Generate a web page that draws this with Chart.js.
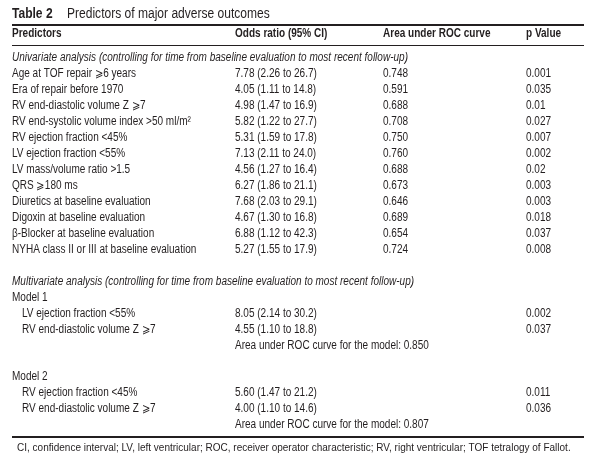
<!DOCTYPE html>
<html>
<head>
<meta charset="utf-8">
<script src="https://cdn.jsdelivr.net/npm/chart.js@4.4.1/dist/chart.umd.min.js"></script>
<style>
  html, body { margin: 0; padding: 0; background: #fff; }
  #wrap { width: 600px; height: 461px; position: relative; }
</style>
</head>
<body>
<div id="wrap"><canvas id="table"></canvas></div>
<script>
// table content
const tableTitle = 'Predictors of major adverse outcomes';
const columnHeaders = ['Predictors', 'Odds ratio (95% CI)', 'Area under ROC curve', 'p Value'];

const univariateHeading = 'Univariate analysis (controlling for time from baseline evaluation to most recent follow-up)';
const univariateLabels = [
  'Age at TOF repair \u2A7E6 years',
  'Era of repair before 1970',
  'RV end-diastolic volume Z \u2A7E7',
  'RV end-systolic volume index >50 ml/m\u00B2',
  'RV ejection fraction <45%',
  'LV ejection fraction <55%',
  'LV mass/volume ratio >1.5',
  'QRS \u2A7E180 ms',
  'Diuretics at baseline evaluation',
  'Digoxin at baseline evaluation',
  '\u03B2-Blocker at baseline evaluation',
  'NYHA class II or III at baseline evaluation'
];
const univariateOR = [7.78, 4.05, 4.98, 5.82, 5.31, 7.13, 4.56, 6.27, 7.68, 4.67, 6.88, 5.27];
const univariateLow = [2.26, 1.11, 1.47, 1.22, 1.59, 2.11, 1.27, 1.86, 2.03, 1.30, 1.12, 1.55];
const univariateHigh = [26.7, 14.8, 16.9, 27.7, 17.8, 24.0, 16.4, 21.1, 29.1, 16.8, 42.3, 17.9];
const univariateAUC = [0.748, 0.591, 0.688, 0.708, 0.750, 0.760, 0.688, 0.673, 0.646, 0.689, 0.654, 0.724];
const univariateP = [0.001, 0.035, 0.01, 0.027, 0.007, 0.002, 0.02, 0.003, 0.003, 0.018, 0.037, 0.008];

const multivariateHeading = 'Multivariate analysis (controlling for time from baseline evaluation to most recent follow-up)';
const model1Labels = ['LV ejection fraction <55%', 'RV end-diastolic volume Z \u2A7E7'];
const model1OR = [8.05, 4.55];
const model1Low = [2.14, 1.10];
const model1High = [30.2, 18.8];
const model1P = [0.002, 0.037];
const model1AUC = 0.850;

const model2Labels = ['RV ejection fraction <45%', 'RV end-diastolic volume Z \u2A7E7'];
const model2OR = [5.60, 4.00];
const model2Low = [1.47, 1.10];
const model2High = [21.2, 14.6];
const model2P = [0.011, 0.036];
const model2AUC = 0.807;

const footnote = 'CI, confidence interval; LV, left ventricular; ROC, receiver operator characteristic; RV, right ventricular; TOF tetralogy of Fallot.';

// build the rows (one category per printed line)
const fmtOR = (v, lo, hi) => v.toFixed(2) + ' (' + lo.toFixed(2) + ' to ' + hi.toFixed(1) + ')';
const rows = [];
rows.push({ label: univariateHeading, italic: true });
univariateLabels.forEach((l, i) => rows.push({
  label: l,
  or: fmtOR(univariateOR[i], univariateLow[i], univariateHigh[i]),
  auc: univariateAUC[i].toFixed(3),
  p: String(univariateP[i])
}));
rows.push({ label: '' });
rows.push({ label: multivariateHeading, italic: true });
[[model1Labels, model1OR, model1Low, model1High, model1P, model1AUC, 'Model 1'],
 [model2Labels, model2OR, model2Low, model2High, model2P, model2AUC, 'Model 2']].forEach((m, k) => {
  if (k > 0) rows.push({ label: '' });
  rows.push({ label: m[6] });
  m[0].forEach((l, i) => rows.push({ label: l, indent: true, or: fmtOR(m[1][i], m[2][i], m[3][i]), p: String(m[4][i]) }));
  rows.push({ label: '', or: 'Area under ROC curve for the model: ' + m[5].toFixed(3) });
});

// layout
const FAMILY = '"Liberation Sans", Arial, sans-serif';
const SX = 0.835;         // condensed look
const INK = '#231f20';
const colX = [12, 235, 383, 526];
const ruleLeft = 12, ruleRight = 584;

function txt(ctx, s, x, y, font, sx) {
  ctx.save();
  ctx.translate(x, y);
  ctx.scale(sx || SX, 1);
  ctx.font = font;
  ctx.fillStyle = INK;
  ctx.textAlign = 'left';
  ctx.textBaseline = 'middle';
  ctx.fillText(s, 0, 0);
  ctx.restore();
}
function rule(ctx, y, w) {
  ctx.save();
  ctx.strokeStyle = INK;
  ctx.lineWidth = w;
  ctx.beginPath();
  ctx.moveTo(ruleLeft, y);
  ctx.lineTo(ruleRight, y);
  ctx.stroke();
  ctx.restore();
}

const tableText = {
  id: 'tableText',
  afterDraw(chart) {
    const ctx = chart.ctx;
    const y = chart.scales.y;
    const reg = '12px ' + FAMILY;

    // title
    txt(ctx, 'Table 2', 12, 14, 'bold 14px ' + FAMILY, 0.86);
    txt(ctx, tableTitle, 67, 14, '14px ' + FAMILY, 0.86);
    rule(ctx, 25, 2);

    // header
    columnHeaders.forEach((h, i) => txt(ctx, h, colX[i], 34, 'bold 12px ' + FAMILY));
    rule(ctx, 45.5, 1);

    // body rows
    rows.forEach((r, i) => {
      const py = y.getPixelForValue(i);
      if (r.label) txt(ctx, r.label, r.indent ? 22 : colX[0], py, (r.italic ? 'italic ' : '') + reg);
      if (r.or) txt(ctx, r.or, colX[1], py, reg);
      if (r.auc) txt(ctx, r.auc, colX[2], py, reg);
      if (r.p) txt(ctx, r.p, colX[3], py, reg);
    });

    rule(ctx, 437, 2);
    txt(ctx, footnote, 17, 448, '11.5px ' + FAMILY, 0.87);
  }
};

new Chart(document.getElementById('table'), {
  type: 'bar',
  data: {
    labels: rows.map(r => r.label),
    datasets: [{ data: rows.map(() => null) }]
  },
  options: {
    indexAxis: 'y',
    responsive: true,
    maintainAspectRatio: false,
    animation: false,
    events: [],
    layout: { padding: { top: 50, bottom: 28, left: 0, right: 0 } },
    plugins: { legend: { display: false }, tooltip: { enabled: false } },
    scales: {
      x: { display: false, min: 0, max: 1 },
      y: { display: false, offset: true }
    }
  },
  plugins: [tableText]
});
</script>
</body>
</html>
